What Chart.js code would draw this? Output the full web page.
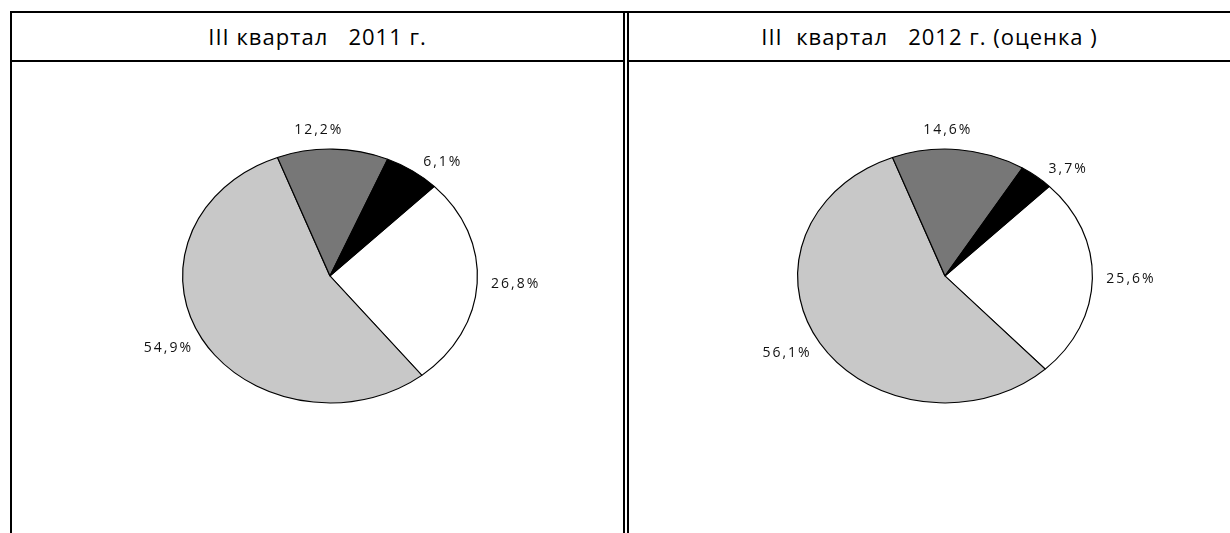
<!DOCTYPE html>
<html><head><meta charset="utf-8">
<script src="https://cdn.jsdelivr.net/npm/chart.js@4/dist/chart.umd.min.js"></script>
<style>
html,body{margin:0;padding:0;background:#fff;width:1230px;height:533px;overflow:hidden;position:relative;font-family:"Open Sans",sans-serif;}
.ln{position:absolute;background:#000;}
.title{position:absolute;top:13px;height:47px;line-height:47px;text-align:center;font-size:22px;letter-spacing:1px;color:#000;white-space:pre;}
canvas{position:absolute;}
</style></head><body>
<div class="ln" style="left:10px;top:11px;width:1220px;height:2px"></div>
<div class="ln" style="left:10px;top:60px;width:613px;height:2px"></div>
<div class="ln" style="left:629px;top:60px;width:601px;height:2px"></div>
<div class="ln" style="left:10px;top:11px;width:2px;height:522px"></div>
<div class="ln" style="left:623px;top:11px;width:2px;height:522px"></div>
<div class="ln" style="left:627px;top:11px;width:2px;height:522px"></div>
<div class="title" id="t1" style="left:12px;width:611px"></div>
<div class="title" id="t2" style="left:629px;width:601px"></div>
<div style="position:absolute;left:80px;top:76px;width:500px;height:400px"><canvas id="c1"></canvas></div>
<div style="position:absolute;left:695px;top:76px;width:500px;height:400px"><canvas id="c2"></canvas></div>
<script>
const titles = ['III квартал   2011 г.', 'III  квартал   2012 г. (оценка )'];
const categories = ['A', 'B', 'C', 'D'];
const values2011 = [26.8, 54.9, 12.2, 6.1];
const values2012 = [25.6, 56.1, 14.6, 3.7];
const sliceColors = ['#ffffff', '#c8c8c8', '#777777', '#000000'];

document.getElementById('t1').textContent = titles[0];
document.getElementById('t2').textContent = titles[1];

const K = 0.861;                    // vertical squash of the pie into an ellipse
const D = 14;                       // label distance outside the edge
const MIN_SEP = 42 * Math.PI / 180; // minimum angular gap between neighbouring labels

const ellipsePlugin = {
  id: 'ellipse',
  beforeDatasetsDraw(chart) {
    const a = chart.getDatasetMeta(0).data[0];
    const ctx = chart.ctx;
    ctx.save();
    ctx.translate(a.x, a.y);
    ctx.scale(1, K);
    ctx.translate(-a.x, -a.y);
  },
  afterDatasetsDraw(chart) {
    chart.ctx.restore();
  },
  afterDraw(chart) {
    const ctx = chart.ctx;
    const vals = chart.data.datasets[0].data;
    const arcs = chart.getDatasetMeta(0).data;
    const mids = arcs.map(a => (a.startAngle + a.endAngle) / 2);
    // spread neighbouring labels that are too close in angle
    for (let i = 0; i < mids.length; i++) {
      const j = (i + 1) % mids.length;
      let gap = mids[j] - mids[i];
      while (gap < 0) gap += 2 * Math.PI;
      if (gap < MIN_SEP) {
        const extra = (MIN_SEP - gap) / 2;
        mids[i] -= extra; mids[j] += extra;
      }
    }
    ctx.save();
    ctx.font = '14px "Open Sans"';
    ctx.letterSpacing = '2px';
    ctx.fillStyle = '#111';
    ctx.textAlign = 'center';
    ctx.textBaseline = 'middle';
    arcs.forEach((arc, i) => {
      const txt = vals[i].toFixed(1).replace('.', ',') + '%';
      const c = Math.cos(mids[i]), s = Math.sin(mids[i]);
      const px = arc.x + (arc.outerRadius + D) * c;
      const py = arc.y + (arc.outerRadius * K + D) * s;
      const w = ctx.measureText(txt).width, h = 10;
      ctx.fillText(txt, px + c * w / 2, py + s * h / 2);
    });
    ctx.restore();
  }
};

function makePie(id, values) {
  new Chart(document.getElementById(id), {
    type: 'pie',
    data: {
      labels: categories,
      datasets: [{
        data: values,
        backgroundColor: sliceColors,
        borderColor: '#000',
        borderWidth: 1.2,
      }]
    },
    options: {
      responsive: true,
      maintainAspectRatio: false,
      animation: false,
      rotation: 45,
      layout: { padding: { left: 102, right: 102, top: 52, bottom: 52 } },
      plugins: { legend: { display: false }, tooltip: { enabled: false } },
      events: []
    },
    plugins: [ellipsePlugin]
  });
}
makePie('c1', values2011);
makePie('c2', values2012);
</script>
</body></html>
